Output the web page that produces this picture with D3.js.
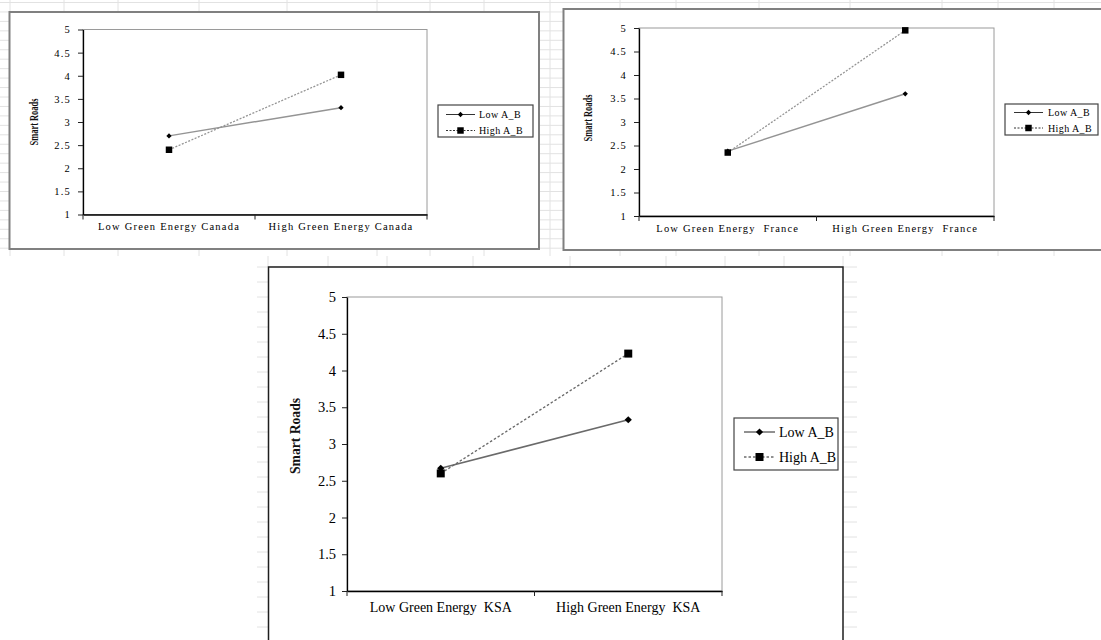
<!DOCTYPE html>
<html>
<head>
<meta charset="utf-8">
<script src="https://cdn.jsdelivr.net/npm/d3@7"></script>
<style>
  html, body { margin: 0; padding: 0; background: #fff; }
  svg { display: block; }
  text { white-space: pre; }
</style>
</head>
<body>
<svg id="sheet" width="1101" height="640"></svg>
<script>
// ---- values ----
const yTicks = [1, 1.5, 2, 2.5, 3, 3.5, 4, 4.5, 5];
const yTitle = "Smart Roads";
const seriesNames = ["Low A_B", "High A_B"];

const canadaCategories = ["Low Green Energy Canada", "High Green Energy Canada"];
const canadaLow = [2.70, 3.31];
const canadaHigh = [2.40, 4.02];

const franceCategories = ["Low Green Energy  France", "High Green Energy  France"];
const franceLow = [2.38, 3.60];
const franceHigh = [2.35, 4.95];

const ksaCategories = ["Low Green Energy  KSA", "High Green Energy  KSA"];
const ksaLow = [2.67, 3.33];
const ksaHigh = [2.60, 4.23];

// ---- worksheet backdrop ----
const gridColor = "#e2e2e2";
const svg = d3.select("#sheet");
const sheet = svg.append("g");

const topCols = [10, 64, 118, 199, 287, 377, 430, 484, 550, 620, 676, 759, 850, 942, 998, 1054];
const topRows = d3.range(2.5, 250, 9.45);
sheet.selectAll(".trow").data(topRows).join("line")
  .attr("x1", 0).attr("x2", 1101).attr("y1", d => d).attr("y2", d => d)
  .attr("stroke", gridColor).attr("stroke-width", 1);
sheet.selectAll(".tcol").data(topCols).join("line")
  .attr("x1", d => d).attr("x2", d => d).attr("y1", 0).attr("y2", 256)
  .attr("stroke", gridColor).attr("stroke-width", 1);

sheet.append("rect").attr("x", 0).attr("y", 256).attr("width", 1101).attr("height", 384).attr("fill", "#fff");
const lowCols = [268, 328, 387, 473, 570, 666, 725, 784, 843];
const lowRows = d3.range(267, 640, 15);
sheet.selectAll(".brow").data(lowRows).join("line")
  .attr("x1", 257).attr("x2", 857).attr("y1", d => d).attr("y2", d => d)
  .attr("stroke", gridColor).attr("stroke-width", 1);
sheet.selectAll(".bcol").data(lowCols).join("line")
  .attr("x1", d => d).attr("x2", d => d).attr("y1", 256).attr("y2", 267)
  .attr("stroke", gridColor).attr("stroke-width", 1);

// ---- chart layouts ----
const smallLayout = {
  boxStroke: "#808080", boxWidth: 2,
  tick: 5, tickPad: 7, tickFont: 10.5, tickSpacing: 1.2,
  xFont: 10.5, xSpacing: 1.2, xPad: 8.2,
  titleFont: 12, titleScale: 0.7,
  legendFont: 10, legendSpacing: 0.4,
  lineColor: "#949494", lineWidth: 1.5, dash: "2,1.5",
  legendLine: "#333", diamond: 14, square: 42
};
const largeLayout = {
  boxStroke: "#1e1e1e", boxWidth: 1.5,
  tick: 5, tickPad: 6, tickFont: 14.5, tickSpacing: 0,
  xFont: 14, xSpacing: 0, xPad: 11,
  titleFont: 15.5, titleScale: 0.88,
  legendFont: 14, legendSpacing: 0,
  lineColor: "#6a6a6a", lineWidth: 1.6, dash: "2.5,2",
  legendLine: "#222", diamond: 26, square: 64
};

const panels = [
  { cats: canadaCategories, low: canadaLow, high: canadaHigh, style: smallLayout,
    box: [9.5, 12, 539, 249], plot: [83, 29.5, 427, 214.5],
    title: [34, 122],
    legend: { box: [438, 105, 533, 137], rows: [114.5, 130.5], line: [446, 475], text: 479 } },
  { cats: franceCategories, low: franceLow, high: franceHigh, style: smallLayout,
    box: [563.5, 9, 1112, 250], plot: [639, 28, 994, 216],
    title: [588, 118],
    legend: { box: [1005, 104, 1098, 135], rows: [112.5, 128], line: [1014, 1043], text: 1048 } },
  { cats: ksaCategories, low: ksaLow, high: ksaHigh, style: largeLayout,
    box: [268.5, 267, 843, 660], plot: [347, 297, 722, 591],
    title: [294.5, 436],
    legend: { box: [734, 418, 838, 470], rows: [432, 457], line: [744, 775], text: 779 } }
];

const diamondPath = s => d3.symbol(d3.symbolSquare, s)();
const serif = "'Liberation Serif', 'Times New Roman', serif";

function drawPanel(p) {
  const st = p.style;
  const g = svg.append("g");
  const [bx0, by0, bx1, by1] = p.box;
  g.append("rect")
    .attr("x", bx0).attr("y", by0).attr("width", bx1 - bx0).attr("height", by1 - by0)
    .attr("fill", "#fff").attr("stroke", st.boxStroke).attr("stroke-width", st.boxWidth);

  const [px0, py0, px1, py1] = p.plot;
  const x = d3.scaleBand().domain(p.cats).range([px0, px1]);
  const y = d3.scaleLinear().domain([1, 5]).range([py1, py0]);
  const cx = c => x(c) + x.bandwidth() / 2;

  // plot area frame
  g.append("rect")
    .attr("x", px0).attr("y", py0).attr("width", px1 - px0).attr("height", py1 - py0)
    .attr("fill", "none").attr("stroke", "#9a9a9a").attr("stroke-width", 1);

  // value axis
  const ya = g.append("g").attr("transform", `translate(${px0},0)`)
    .call(d3.axisLeft(y).tickValues(yTicks).tickSize(st.tick).tickSizeOuter(0)
      .tickPadding(st.tickPad).tickFormat(d3.format("")));
  ya.select(".domain").attr("stroke", "#000").attr("stroke-width", 1.3);
  ya.selectAll(".tick line").attr("stroke", "#222");
  ya.selectAll("text")
    .attr("font-family", serif)
    .attr("font-size", st.tickFont).attr("letter-spacing", st.tickSpacing).attr("fill", "#000");

  // category axis
  const xa = g.append("g").attr("transform", `translate(0,${py1})`)
    .call(d3.axisBottom(x).tickSize(0).tickSizeOuter(0).tickPadding(st.xPad));
  xa.select(".domain").attr("stroke", "#000").attr("stroke-width", 1.3);
  xa.selectAll("text")
    .attr("font-family", serif)
    .attr("font-size", st.xFont).attr("letter-spacing", st.xSpacing).attr("fill", "#000");
  const edges = p.cats.map(c => x(c)).concat([x.range()[1]]);
  g.selectAll(".sep").data(edges).join("line")
    .attr("x1", d => d).attr("x2", d => d).attr("y1", py1).attr("y2", py1 + st.tick)
    .attr("stroke", "#222").attr("stroke-width", 1);

  // axis title
  g.append("text")
    .attr("transform", `translate(${p.title[0]},${p.title[1]}) rotate(-90) scale(${st.titleScale},1)`)
    .attr("text-anchor", "middle").attr("dy", "0.35em")
    .attr("font-family", serif)
    .attr("font-weight", "bold").attr("font-size", st.titleFont).attr("fill", "#111")
    .text(yTitle);

  // series
  const line = d3.line().x((d, i) => cx(p.cats[i])).y(d => y(d));
  g.append("path").datum(p.low).attr("d", line)
    .attr("fill", "none").attr("stroke", st.lineColor).attr("stroke-width", st.lineWidth);
  g.append("path").datum(p.high).attr("d", line)
    .attr("fill", "none").attr("stroke", st.lineColor).attr("stroke-width", st.lineWidth * 0.85)
    .attr("stroke-dasharray", st.dash);

  g.selectAll(".lowMark").data(p.low).join("path")
    .attr("d", diamondPath(st.diamond))
    .attr("transform", (d, i) => `translate(${cx(p.cats[i])},${y(d)}) rotate(45)`)
    .attr("fill", "#000");
  g.selectAll(".highMark").data(p.high).join("path")
    .attr("d", d3.symbol(d3.symbolSquare, st.square)())
    .attr("transform", (d, i) => `translate(${cx(p.cats[i])},${y(d)})`)
    .attr("fill", "#000");

  // legend
  const L = p.legend;
  g.append("rect")
    .attr("x", L.box[0]).attr("y", L.box[1]).attr("width", L.box[2] - L.box[0]).attr("height", L.box[3] - L.box[1])
    .attr("fill", "#fff").attr("stroke", "#444").attr("stroke-width", 1.2);
  seriesNames.forEach((name, i) => {
    const ry = L.rows[i];
    const mid = (L.line[0] + L.line[1]) / 2;
    const ln = g.append("line")
      .attr("x1", L.line[0]).attr("x2", L.line[1]).attr("y1", ry).attr("y2", ry)
      .attr("stroke", st.legendLine).attr("stroke-width", 1);
    if (i === 1) ln.attr("stroke-dasharray", st.dash);
    g.append("path")
      .attr("d", i === 0 ? diamondPath(st.diamond) : d3.symbol(d3.symbolSquare, st.square)())
      .attr("transform", i === 0 ? `translate(${mid},${ry}) rotate(45)` : `translate(${mid},${ry})`)
      .attr("fill", "#000");
    g.append("text")
      .attr("x", L.text).attr("y", ry).attr("dy", "0.35em")
      .attr("font-family", serif)
      .attr("font-size", st.legendFont).attr("letter-spacing", st.legendSpacing).attr("fill", "#000")
      .text(name);
  });
}

panels.forEach(drawPanel);
</script>
</body>
</html>
